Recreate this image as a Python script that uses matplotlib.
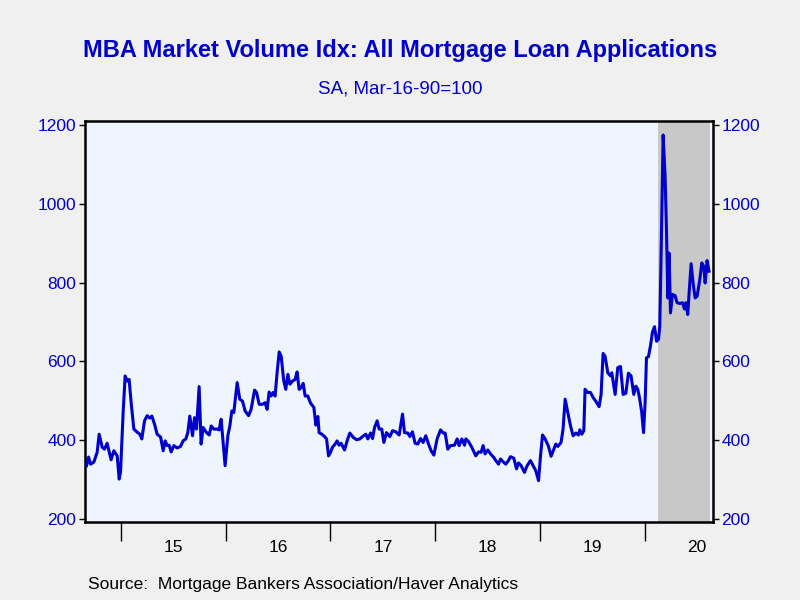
import numpy as np
import matplotlib
matplotlib.use("Agg")
import matplotlib.pyplot as plt

plt.rcParams['font.family'] = ['Liberation Sans', 'DejaVu Sans']

# decimal years, index values
years = [2014.673, 2014.692, 2014.711, 2014.742, 2014.774, 2014.793, 2014.822, 2014.844,
         2014.869, 2014.907, 2014.933, 2014.952, 2014.965, 2014.984, 2014.997, 2015.022,
         2015.041, 2015.060, 2015.079, 2015.098, 2015.124, 2015.156, 2015.181, 2015.200,
         2015.226, 2015.251, 2015.277, 2015.296, 2015.322, 2015.346, 2015.379, 2015.404,
         2015.423, 2015.442, 2015.461, 2015.480, 2015.506, 2015.537, 2015.570, 2015.594,
         2015.620, 2015.639, 2015.658, 2015.684, 2015.703, 2015.722, 2015.747, 2015.766,
         2015.785, 2015.818, 2015.843, 2015.862, 2015.887, 2015.919, 2015.938, 2015.957,
         2015.976, 2015.995, 2016.021, 2016.040, 2016.059, 2016.078, 2016.110, 2016.135,
         2016.161, 2016.186, 2016.219, 2016.243, 2016.276, 2016.295, 2016.320, 2016.352,
         2016.377, 2016.396, 2016.415, 2016.434, 2016.453, 2016.472, 2016.491, 2016.511,
         2016.530, 2016.555, 2016.574, 2016.594, 2016.613, 2016.638, 2016.663, 2016.682,
         2016.701, 2016.720, 2016.740, 2016.759, 2016.784, 2016.810, 2016.842, 2016.861,
         2016.880, 2016.892, 2016.918, 2016.944, 2016.963, 2016.982, 2017.001, 2017.020,
         2017.045, 2017.064, 2017.083, 2017.102, 2017.135, 2017.159, 2017.185, 2017.217,
         2017.249, 2017.281, 2017.306, 2017.338, 2017.357, 2017.383, 2017.402, 2017.421,
         2017.446, 2017.465, 2017.490, 2017.510, 2017.535, 2017.567, 2017.593, 2017.624,
         2017.656, 2017.688, 2017.707, 2017.739, 2017.758, 2017.783, 2017.808, 2017.834,
         2017.860, 2017.885, 2017.910, 2017.936, 2017.961, 2017.987, 2018.018, 2018.051,
         2018.076, 2018.095, 2018.120, 2018.146, 2018.184, 2018.209, 2018.228, 2018.254,
         2018.280, 2018.292, 2018.318, 2018.349, 2018.387, 2018.413, 2018.438, 2018.457,
         2018.476, 2018.502, 2018.528, 2018.559, 2018.578, 2018.604, 2018.623, 2018.648,
         2018.674, 2018.699, 2018.718, 2018.750, 2018.776, 2018.795, 2018.820, 2018.852,
         2018.877, 2018.909, 2018.934, 2018.960, 2018.986, 2019.005, 2019.024, 2019.049,
         2019.081, 2019.106, 2019.132, 2019.151, 2019.170, 2019.201, 2019.220, 2019.240,
         2019.265, 2019.291, 2019.316, 2019.342, 2019.367, 2019.380, 2019.399, 2019.418,
         2019.430, 2019.456, 2019.482, 2019.507, 2019.532, 2019.564, 2019.583, 2019.602,
         2019.621, 2019.647, 2019.673, 2019.685, 2019.717, 2019.742, 2019.768, 2019.793,
         2019.819, 2019.844, 2019.869, 2019.895, 2019.914, 2019.933, 2019.952, 2019.971,
         2019.988, 2020.003, 2020.016, 2020.035, 2020.054, 2020.073, 2020.093, 2020.112,
         2020.131, 2020.143, 2020.156, 2020.175, 2020.194, 2020.207, 2020.220, 2020.232,
         2020.245, 2020.264, 2020.289, 2020.308, 2020.334, 2020.360, 2020.379, 2020.391,
         2020.410, 2020.423, 2020.442, 2020.461, 2020.480, 2020.499, 2020.525, 2020.544,
         2020.563, 2020.576, 2020.594, 2020.613]
values = [335, 357, 339, 344, 369, 415, 382, 377,
          392, 350, 373, 365, 360, 301, 319, 471,
          563, 550, 554, 496, 428, 420, 415, 403,
          449, 462, 456, 461, 440, 415, 408, 373,
          398, 386, 387, 370, 386, 380, 384, 398,
          403, 419, 461, 411, 457, 428, 536, 390,
          432, 419, 413, 436, 428, 428, 426, 453,
          394, 335, 411, 436, 474, 470, 546, 504,
          499, 474, 462, 478, 527, 521, 491, 491,
          495, 478, 522, 512, 521, 512, 571, 624,
          613, 550, 529, 567, 542, 550, 554, 573,
          529, 533, 544, 512, 512, 494, 483, 438,
          460, 419, 415, 409, 403, 360, 369, 382,
          390, 398, 387, 392, 375, 398, 418, 407,
          401, 403, 409, 415, 403, 418, 404, 432,
          449, 428, 428, 394, 419, 409, 424, 421,
          413, 466, 419, 418, 409, 421, 392, 390,
          404, 394, 411, 390, 373, 362, 403, 426,
          418, 418, 377, 386, 387, 403, 386, 403,
          387, 403, 396, 382, 360, 370, 369, 386,
          365, 375, 365, 356, 348, 339, 352, 345,
          339, 348, 358, 354, 327, 342, 335, 318,
          335, 348, 335, 322, 297, 360, 413, 403,
          384, 359, 377, 390, 384, 394, 428, 504,
          470, 436, 411, 418, 413, 426, 415, 424,
          529, 521, 521, 508, 499, 485, 516, 620,
          613, 571, 563, 571, 516, 584, 587, 516,
          519, 570, 563, 516, 537, 529, 504, 470,
          419, 495, 609, 612, 639, 674, 688, 651,
          656, 689, 875, 1175, 1069, 934, 761, 875,
          723, 770, 767, 749, 747, 749, 733, 749,
          719, 774, 848, 799, 761, 765, 808, 850,
          841, 799, 856, 829]

recession = (2020.125, 2020.625)
year_ticks = [2015, 2016, 2017, 2018, 2019, 2020]
year_labels = ["15", "16", "17", "18", "19", "20"]
y_ticks = [200, 400, 600, 800, 1000, 1200]

blue = "#0000CC"

fig = plt.figure(figsize=(8, 6), dpi=100, facecolor="#F0F0F0")
ax = fig.add_axes([0.106, 0.13, 0.785, 0.668])
ax.set_facecolor("#EEF5FF")

ax.axvspan(recession[0], recession[1], color="#C8C8C8", lw=0, zorder=1)
ax.plot(years, values, color=blue, lw=2.2, zorder=3)

ax.set_xlim(2014.656, 2020.649)
ax.set_ylim(192, 1210)

ax.set_xticks(year_ticks)
ax.set_xticklabels([])
ax.set_xticks([y + 0.5 for y in year_ticks], minor=True)
ax.set_xticklabels(year_labels, minor=True)
ax.tick_params(axis="x", which="major", direction="out", length=14, width=1, color="black")
ax.tick_params(axis="x", which="minor", length=0, pad=13, labelsize=12.5, labelcolor="black")

ax.set_yticks(y_ticks)
ax.tick_params(axis="y", direction="out", length=4, width=1, labelsize=12.5,
               labelcolor=blue, right=True, labelright=True, pad=2)

for s in ax.spines.values():
    s.set_linewidth(1.8)
    s.set_color("black")

fig.text(0.5, 0.915, "MBA Market Volume Idx: All Mortgage Loan Applications",
         ha="center", va="center", color=blue, fontsize=17, fontweight="bold")
fig.text(0.5, 0.852, "SA, Mar-16-90=100", ha="center", va="center", color=blue, fontsize=13.5)
fig.text(0.11, 0.025, "Source:  Mortgage Bankers Association/Haver Analytics",
         ha="left", va="center", color="black", fontsize=12.5)

fig.savefig("out.png", dpi=100, facecolor=fig.get_facecolor())
